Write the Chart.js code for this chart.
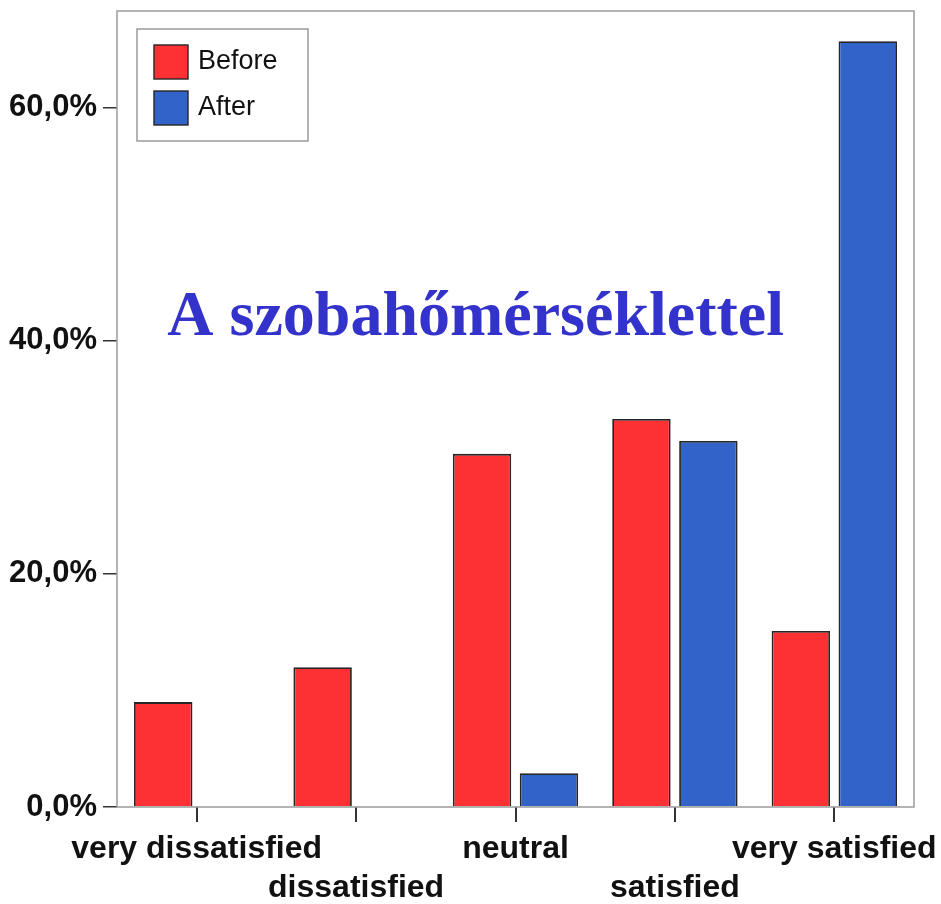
<!DOCTYPE html>
<html>
<head>
<meta charset="utf-8">
<script src="https://cdn.jsdelivr.net/npm/chart.js@4.4.1/dist/chart.umd.min.js"></script>
<style>
  html, body { margin: 0; padding: 0; background: #ffffff; }
  canvas { display: block; }
</style>
</head>
<body>
<canvas id="c" width="941" height="904"></canvas>
<script>
const categories = ['very dissatisfied', 'dissatisfied', 'neutral', 'satisfied', 'very satisfied'];
const seriesNames = ['Before', 'After'];
const beforeValues = [9.0, 12.0, 30.3, 33.3, 15.1];
const afterValues = [0, 0, 2.9, 31.4, 65.7];
const yTickValues = [0, 20, 40, 60];
const titleText = 'A szobahőmérséklettel';

const RED = '#fd3134';
const BLUE = '#3263c9';
const BAR_EDGE = '#262626';
const FRAME = '#9a9a9a';

const framePlugin = {
  id: 'frame',
  afterDatasetsDraw(chart) {
    const { ctx, chartArea: a } = chart;
    ctx.save();
    ctx.strokeStyle = FRAME;
    ctx.lineWidth = 1.5;
    ctx.strokeRect(a.left, a.top, a.right - a.left, a.bottom - a.top);
    ctx.restore();
  }
};

const legendPlugin = {
  id: 'boxLegend',
  afterDraw(chart) {
    const { ctx, chartArea: a } = chart;
    const x0 = a.left + 20, y0 = a.top + 18, w = 171, h = 112;
    ctx.save();
    ctx.fillStyle = '#ffffff';
    ctx.fillRect(x0, y0, w, h);
    ctx.strokeStyle = FRAME;
    ctx.lineWidth = 1.5;
    ctx.strokeRect(x0, y0, w, h);
    chart.data.datasets.forEach((ds, i) => {
      const sx = x0 + 17, sy = y0 + 16 + i * 46, s = 34;
      ctx.fillStyle = ds.backgroundColor;
      ctx.fillRect(sx, sy, s, s);
      ctx.strokeStyle = BAR_EDGE;
      ctx.lineWidth = 1.4;
      ctx.strokeRect(sx, sy, s, s);
      ctx.fillStyle = '#111111';
      ctx.font = '27px "Liberation Sans", Arial, sans-serif';
      ctx.textBaseline = 'middle';
      ctx.textAlign = 'left';
      ctx.fillText(ds.label, sx + s + 10, sy + s / 2);
    });
    ctx.restore();
  }
};

const titlePlugin = {
  id: 'innerTitle',
  afterDraw(chart) {
    const { ctx, chartArea: a } = chart;
    ctx.save();
    ctx.fillStyle = '#3333cc';
    ctx.font = 'bold 64px "Liberation Serif", "Times New Roman", serif';
    ctx.textAlign = 'center';
    ctx.textBaseline = 'alphabetic';
    ctx.fillText(titleText, a.left + (a.right - a.left) * 0.45, a.top + 324);
    ctx.restore();
  }
};

new Chart(document.getElementById('c'), {
  type: 'bar',
  data: {
    labels: categories,
    datasets: [
      { label: seriesNames[0], data: beforeValues, backgroundColor: RED },
      { label: seriesNames[1], data: afterValues, backgroundColor: BLUE }
    ]
  },
  options: {
    responsive: false,
    animation: false,
    devicePixelRatio: 1,
    layout: { padding: { left: 0, right: 27, top: 11, bottom: 0 } },
    datasets: {
      bar: {
        categoryPercentage: 0.84,
        barPercentage: 0.873,
        borderColor: BAR_EDGE,
        borderWidth: (c) => (c.raw ? 1.8 : 0),
        borderSkipped: 'start'
      }
    },
    plugins: {
      legend: { display: false },
      tooltip: { enabled: false },
      title: { display: false }
    },
    scales: {
      x: {
        offset: true,
        grid: {
          offset: false,
          drawOnChartArea: false,
          drawTicks: true,
          tickLength: 15,
          color: '#333333',
          lineWidth: 2
        },
        border: { display: false },
        ticks: {
          color: '#111111',
          padding: 8,
          maxRotation: 0,
          autoSkip: false,
          font: { family: '"Liberation Sans", Arial, sans-serif', size: 32, weight: 'bold', lineHeight: 1.22 },
          callback: function (value, index) {
            const lab = categories[index];
            return index % 2 === 1 ? ['', lab] : lab;
          }
        },
        afterFit: (s) => { s.height = 97; s.paddingLeft = 0; s.paddingRight = 0; }
      },
      y: {
        min: 0,
        max: 68.3,
        grid: {
          drawOnChartArea: false,
          drawTicks: true,
          tickLength: 14,
          color: '#333333',
          lineWidth: 1.5
        },
        border: { display: false },
        ticks: {
          color: '#111111',
          padding: 6,
          font: { family: '"Liberation Sans", Arial, sans-serif', size: 31, weight: 'bold' },
          callback: (v) => v.toFixed(1).replace('.', ',') + '%'
        },
        afterBuildTicks: (s) => { s.ticks = yTickValues.map(v => ({ value: v })); },
        afterFit: (s) => { s.width = 117; s.paddingTop = 0; s.paddingBottom = 0; }
      }
    }
  },
  plugins: [framePlugin, legendPlugin, titlePlugin]
});
</script>
</body>
</html>
